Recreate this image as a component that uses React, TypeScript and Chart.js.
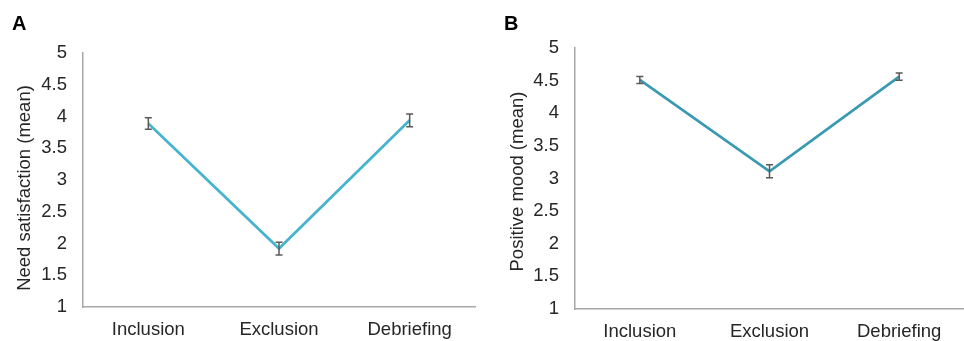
import React, { useEffect, useRef } from "react";
import { Chart, registerables } from "chart.js";

Chart.register(...registerables);

const categories = ["Inclusion", "Exclusion", "Debriefing"];
const needValues = [3.89, 1.92, 3.94];
const needErrors = [0.09, 0.1, 0.1];
const moodValues = [4.51, 3.11, 4.56];
const moodErrors = [0.055, 0.1, 0.055];
const yTicks = [1, 1.5, 2, 2.5, 3, 3.5, 4, 4.5, 5];

const FONT = "Arial, 'Liberation Sans', sans-serif";

const errorBarPlugin = {
  id: "errorBars",
  afterDatasetsDraw(chart: any) {
    const errs: number[] = chart.options.plugins.errorBars?.errors || [];
    const vals: number[] = chart.data.datasets[0].data;
    const xs = chart.scales.x;
    const ys = chart.scales.y;
    const ctx = chart.ctx;
    ctx.save();
    ctx.strokeStyle = "#595959";
    ctx.lineWidth = 1.5;
    vals.forEach((v, i) => {
      const x = xs.getPixelForValue(i);
      const yTop = ys.getPixelForValue(v + errs[i]);
      const yBot = ys.getPixelForValue(v - errs[i]);
      ctx.beginPath();
      ctx.moveTo(x, yTop);
      ctx.lineTo(x, yBot);
      ctx.moveTo(x - 3.5, yTop);
      ctx.lineTo(x + 3.5, yTop);
      ctx.moveTo(x - 3.5, yBot);
      ctx.lineTo(x + 3.5, yBot);
      ctx.stroke();
    });
    ctx.restore();
  },
};

const yTitlePlugin = {
  id: "yTitle",
  afterDraw(chart: any) {
    const o = chart.options.plugins.yTitle;
    if (!o) return;
    const ca = chart.chartArea;
    const ctx = chart.ctx;
    ctx.save();
    ctx.translate(o.x, (ca.top + ca.bottom) / 2 + o.shift);
    ctx.rotate(-Math.PI / 2);
    ctx.font = `18.5px ${FONT}`;
    ctx.fillStyle = "#262626";
    ctx.textAlign = "center";
    ctx.textBaseline = "middle";
    ctx.fillText(o.text, 0, 0);
    ctx.restore();
  },
};

type PanelProps = {
  values: number[];
  errors: number[];
  color: string;
  title: string;
  padTop: number;
  padRight: number;
  yWidth: number;
  xHeight: number;
  titleX: number;
  titleShift: number;
};

function Panel(p: PanelProps) {
  const ref = useRef<HTMLCanvasElement>(null);
  useEffect(() => {
    const chart = new Chart(ref.current!, {
      type: "line",
      data: {
        labels: categories,
        datasets: [
          {
            data: p.values,
            borderColor: p.color,
            borderWidth: 2.7,
            pointRadius: 0,
            tension: 0,
            fill: false,
          },
        ],
      },
      options: {
        animation: false,
        responsive: false,
        layout: { padding: { top: p.padTop, right: p.padRight, left: 0, bottom: 0 } },
        plugins: {
          legend: { display: false },
          tooltip: { enabled: false },
          errorBars: { errors: p.errors },
          yTitle: { text: p.title, x: p.titleX, shift: p.titleShift },
        } as any,
        scales: {
          x: {
            offset: true,
            grid: { display: false, drawTicks: false },
            border: { display: true, color: "#A6A6A6", width: 1.5 },
            ticks: { color: "#262626", font: { family: FONT, size: 18.5 }, padding: 12 },
            afterFit: (s: any) => {
              s.height = p.xHeight;
            },
          },
          y: {
            min: 1,
            max: 5,
            afterBuildTicks: (s: any) => {
              s.ticks = yTicks.map((v) => ({ value: v }));
            },
            grid: { display: false, drawTicks: false },
            border: { display: true, color: "#A6A6A6", width: 1.5 },
            ticks: {
              color: "#262626",
              font: { family: FONT, size: 18.5 },
              padding: 16,
              callback: (v: any) => String(v),
            },
            afterFit: (s: any) => {
              s.width = p.yWidth;
            },
          },
        },
      },
      plugins: [errorBarPlugin, yTitlePlugin],
    });
    return () => chart.destroy();
  }, []);
  return <canvas ref={ref} width={482} height={341} style={{ display: "block", width: 482, height: 341 }} />;
}

export default function App() {
  const letter: React.CSSProperties = {
    position: "absolute",
    top: 13,
    fontFamily: FONT,
    fontWeight: "bold",
    fontSize: 20,
    lineHeight: "20px",
    color: "#000",
  };
  return (
    <div style={{ position: "absolute", left: 0, top: 0, width: 964, height: 341, background: "#fff", overflow: "hidden" }}>
      <div style={{ position: "absolute", left: 0, top: 0 }}>
        <Panel values={needValues} errors={needErrors} color="#46B4CF" title="Need satisfaction (mean)" padTop={53} padRight={7} yWidth={83} xHeight={34} titleX={25} titleShift={8} />
      </div>
      <div style={{ position: "absolute", left: 482, top: 0 }}>
        <Panel values={moodValues} errors={moodErrors} color="#3A9AB2" title="Positive mood (mean)" padTop={48} padRight={0} yWidth={93} xHeight={32} titleX={36} titleShift={3} />
      </div>
      <div style={{ ...letter, left: 12 }}>A</div>
      <div style={{ ...letter, left: 504 }}>B</div>
    </div>
  );
}
